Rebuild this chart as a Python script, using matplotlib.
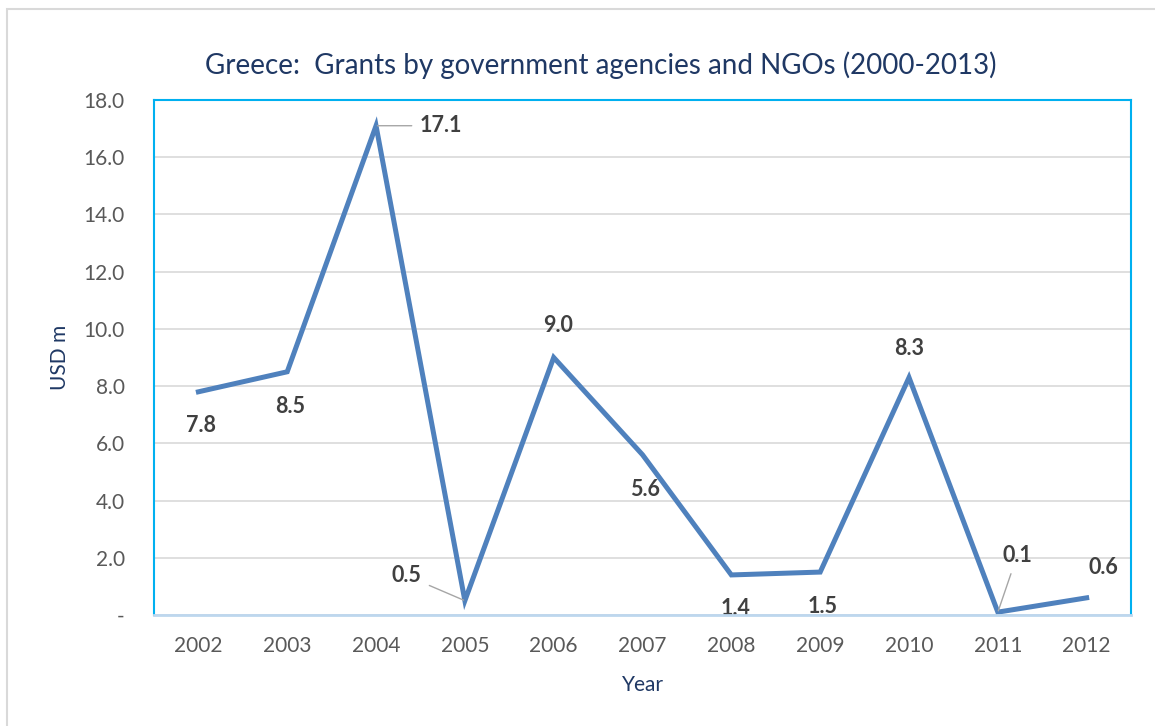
import matplotlib.pyplot as plt
from matplotlib.patches import Rectangle

plt.rcParams['font.family'] = ['Lato', 'DejaVu Sans']

# Grants by year, USD m
years = ['2002', '2003', '2004', '2005', '2006', '2007', '2008', '2009', '2010', '2011', '2012']
grants = [7.8, 8.5, 17.1, 0.5, 9.0, 5.6, 1.4, 1.5, 8.3, 0.1, 0.6]
label_texts = ['7.8', '8.5', '17.1', '0.5', '9.0', '5.6', '1.4', '1.5', '8.3', '0.1', '0.6']
# label offsets (points) from each point, and whether a leader line is drawn
label_offsets = [(2, -24), (2, -25), (47, 0), (-42, 18), (3, 23), (2, -25),
                 (3, -24), (2, -25), (0, 21), (14, 41), (12, 22)]
leaders = [False, False, True, True, False, False, False, False, False, True, False]

yticks = [0, 2, 4, 6, 8, 10, 12, 14, 16, 18]
ytick_labels = ['-', '2.0', '4.0', '6.0', '8.0', '10.0', '12.0', '14.0', '16.0', '18.0']

navy = '#1F3864'
grey_txt = '#595959'

fig = plt.figure(figsize=(11.55, 7.26), dpi=100)
ax = fig.add_axes([0.1333, 0.1529, 0.846, 0.7094])

# outer chart border
fig.patches.append(Rectangle((7 / 1155, -0.05), 1.2, 1 - 9 / 726 + 0.05,
                             transform=fig.transFigure, fill=False,
                             edgecolor='#D9D9D9', lw=1.5))

x = list(range(len(years)))
ax.plot(x, grants, color='#4F81BD', lw=3.6, solid_joinstyle='miter', zorder=3)

for xi, v, t, off, lead in zip(x, grants, label_texts, label_offsets, leaders):
    kw = dict(xy=(xi, v), xytext=off, textcoords='offset points',
              ha='center', va='center', fontsize=15.5, fontweight='bold',
              color='#404040', zorder=4)
    if lead:
        kw['arrowprops'] = dict(arrowstyle='-', color='#A6A6A6', lw=1,
                                shrinkA=4, shrinkB=1)
    ax.annotate(t, **kw)

ax.set_xlim(-0.5, len(years) - 0.5)
ax.set_ylim(0, 18)
ax.set_xticks(x)
ax.set_xticklabels(years)
ax.set_yticks(yticks)
ax.set_yticklabels(ytick_labels)
ax.tick_params(length=0, labelsize=15, colors=grey_txt, pad=15)
ax.tick_params(axis='y', pad=21)
ax.yaxis.grid(True, color='#D9D9D9', lw=1.2)
ax.set_axisbelow(True)

for side in ['left', 'top', 'right']:
    ax.spines[side].set_color('#00B0F0')
    ax.spines[side].set_linewidth(1.5)
ax.spines['bottom'].set_color('#BDD7EE')
ax.spines['bottom'].set_linewidth(2)
ax.spines['bottom'].set_zorder(5)

ax.set_ylabel('USD m', fontsize=15, color=navy, labelpad=10)
ax.set_xlabel('Year', fontsize=15, color=navy, labelpad=14)
fig.text(0.52, 1 - 65 / 726, 'Greece:  Grants by government agencies and NGOs (2000-2013)',
         ha='center', va='center', fontsize=20, color=navy)

fig.savefig('out.png', dpi=100)
